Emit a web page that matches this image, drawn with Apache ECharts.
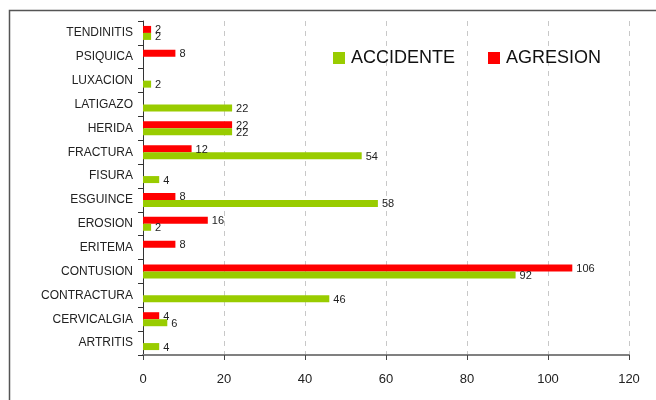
<!DOCTYPE html>
<html>
<head>
<meta charset="utf-8">
<script src="https://cdn.jsdelivr.net/npm/echarts@6/dist/echarts.min.js"></script>
<style>
  html, body { margin: 0; padding: 0; background: #fff; }
  #chart { width: 656px; height: 400px; }
</style>
</head>
<body>
<div id="chart"></div>
<script>
// categories, bottom to top (category axis grows upward)
const categories = ["ARTRITIS", "CERVICALGIA", "CONTRACTURA", "CONTUSION", "ERITEMA", "EROSION",
  "ESGUINCE", "FISURA", "FRACTURA", "HERIDA", "LATIGAZO", "LUXACION", "PSIQUICA", "TENDINITIS"];
const accidente = [4, 6, 46, 92, null, 2, 58, 4, 54, 22, 22, 2, null, 2];
const agresion = [null, 4, null, 106, 8, 16, 8, null, 12, 22, null, null, 8, 2];
const xTicks = [0, 20, 40, 60, 80, 100, 120];

const chart = echarts.init(document.getElementById("chart"));

const labelStyle = {
  show: true,
  position: "right",
  distance: 4,
  offset: [0, 1],
  color: "#222",
  fontSize: 11,
  fontFamily: "Liberation Sans",
};

chart.setOption({
  animation: false,
  textStyle: { fontFamily: "Liberation Sans" },
  graphic: [
    {
      type: "rect",
      shape: { x: 9.5, y: 10.5, width: 700, height: 500 },
      style: { fill: "none", stroke: "#555", lineWidth: 1.5 },
      silent: true,
    },
  ],
  legend: {
    left: 328,
    top: 44,
    itemWidth: 12,
    itemHeight: 12,
    itemGap: 33,
    icon: "rect",
    textStyle: { fontSize: 18, color: "#111", padding: [2, 0, 0, 1] },
    data: ["ACCIDENTE", "AGRESION"],
  },
  grid: { left: 143, right: 27, top: 21, bottom: 45, containLabel: false },
  xAxis: {
    type: "value",
    min: xTicks[0],
    max: xTicks[xTicks.length - 1],
    interval: 20,
    axisLine: { show: true, lineStyle: { color: "#808080", width: 2 } },
    axisTick: { show: true, length: 5, lineStyle: { color: "#444" } },
    axisLabel: { fontSize: 13, color: "#222", margin: 18 },
    splitLine: { show: true, lineStyle: { color: "#c8c8c8", type: [5, 5] } },
  },
  yAxis: {
    type: "category",
    data: categories,
    axisLine: { show: true, lineStyle: { color: "#333" } },
    axisTick: { show: true, length: 5, lineStyle: { color: "#333" } },
    axisLabel: { fontSize: 12, color: "#222", margin: 10 },
  },
  // agresion first so it sits above accidente inside each band
  series: [
    {
      name: "AGRESION",
      type: "bar",
      data: agresion,
      barWidth: 7,
      barGap: "0%",
      itemStyle: { color: "#ff0000" },
      label: labelStyle,
    },
    {
      name: "ACCIDENTE",
      type: "bar",
      data: accidente,
      barWidth: 7,
      barGap: "0%",
      itemStyle: { color: "#99cc00" },
      label: labelStyle,
    },
  ],
});
</script>
</body>
</html>
